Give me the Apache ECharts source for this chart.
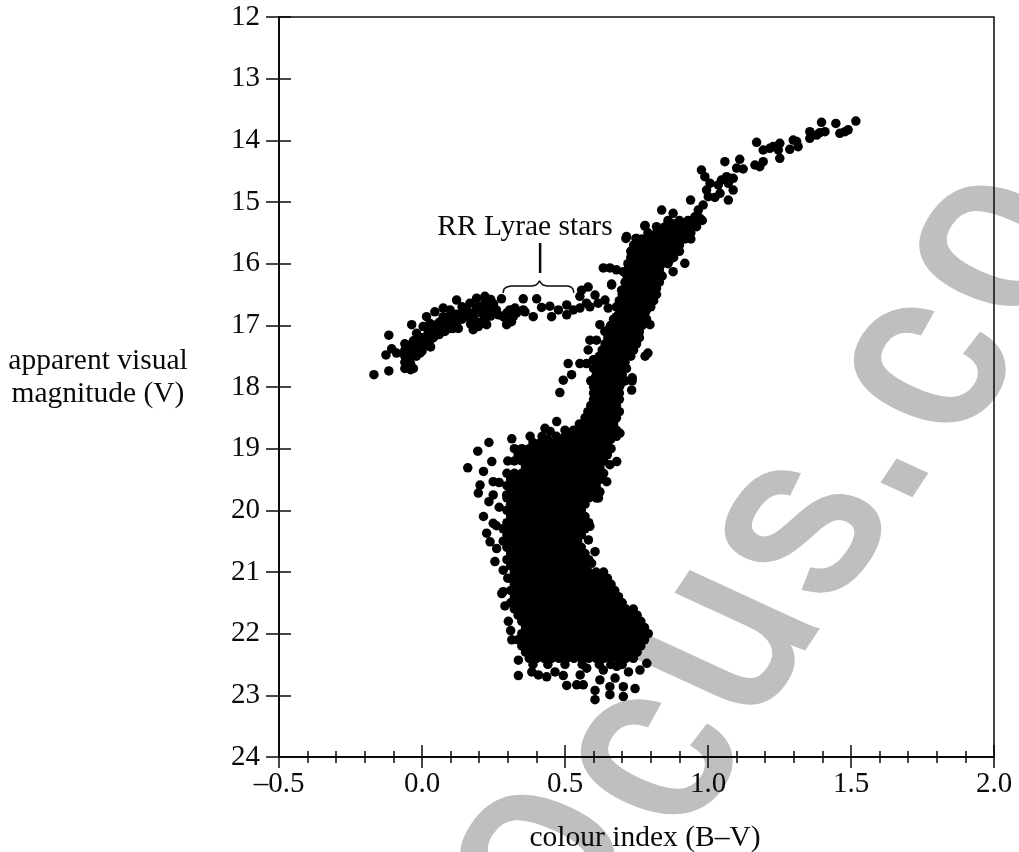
<!DOCTYPE html>
<html><head><meta charset="utf-8">
<style>html,body{margin:0;padding:0;background:#fff}#c{width:1019px;height:852px}</style>
<script src="https://cdn.jsdelivr.net/npm/echarts@6/dist/echarts.min.js"></script>
</head><body><div id="c"></div>
<script>
// Values: [colour index B-V, apparent magnitude V]
const upperGiantStars = [[1.517,13.687],[1.490,13.83],[1.461,13.887],[1.447,13.725],[1.479,13.86],[1.409,13.86],[1.397,13.708],[1.380,13.914],[1.356,13.86],[1.356,13.968],[1.391,13.876],[1.315,14.103],[1.298,13.995],[1.286,14.146],[1.310,14.02],[1.251,14.049],[1.251,14.292],[1.246,14.157],[1.216,14.13],[1.228,14.10],[1.170,14.033],[1.193,14.157],[1.193,14.346],[1.164,14.4],[1.181,14.427],[1.123,14.465],[1.100,14.45],[1.111,14.308],[1.059,14.346],[0.977,14.481],[0.989,14.589],[1.065,14.589],[1.088,14.616],[1.047,14.643],[1.071,14.697],[1.088,14.806],[1.036,14.724],[1.071,14.968],[1.007,14.697],[0.995,14.806],[1.001,14.914],[1.024,14.925],[1.042,14.86],[0.939,14.968],[0.983,15.05],[0.966,15.13],[0.954,15.24],[0.972,15.265],[0.838,15.13],[0.878,15.184],[0.867,15.346],[0.779,15.39],[0.713,15.59],[0.748,15.59],[0.919,15.995],[0.878,16.13],[0.663,16.346],[0.698,16.43]];
const redGiantRows = [
[15.3,[.86,.90,.93,.96,.98]],[15.4,[.82,.85,.88,.91,.94,.96]],[15.5,[.79,.82,.85,.88,.91,.94]],[15.6,[.77,.80,.83,.86,.89,.92,.94]],
[15.7,[.74,.76,.79,.82,.85,.88,.90]],[15.8,[.73,.76,.79,.82,.85,.88,.90]],[15.9,[.73,.76,.79,.82,.85,.88]],[16.0,[.72,.75,.78,.81,.84,.86]],
[16.1,[.72,.75,.78,.81,.83]],[16.2,[.72,.75,.78,.81,.84]],[16.3,[.71,.74,.77,.80,.83]],[16.4,[.71,.74,.77,.80,.82]],
[16.5,[.70,.73,.76,.79,.82]],[16.6,[.69,.72,.75,.78,.81]],[16.7,[.68,.71,.74,.77,.80]],[16.8,[.69,.72,.75,.78]],
[16.9,[.67,.70,.73,.76,.785]],[17.0,[.66,.69,.72,.75,.77]],[17.1,[.64,.67,.70,.73,.76]],[17.2,[.65,.68,.71,.74,.76]],
[17.3,[.64,.67,.70,.73,.75]],[17.4,[.63,.66,.69,.72,.74]],[17.5,[.62,.65,.68,.71,.73]],[17.6,[.62,.65,.68,.71]],
[17.7,[.60,.63,.66,.69,.715]],[17.8,[.61,.64,.67,.70]],[17.9,[.59,.62,.65,.68,.71,.735]],[18.0,[.60,.63,.66,.69]],
[18.1,[.60,.63,.66,.69]],[18.2,[.60,.63,.66,.69]],[18.3,[.59,.62,.65,.68]],[18.4,[.58,.61,.64,.67,.69]],
[18.5,[.57,.60,.63,.66,.68]],[18.6,[.55,.58,.61,.64,.67]],[18.7,[.50,.53,.56,.59,.62,.65,.68]],[18.8,[.42,.47,.50,.53,.56,.59,.62,.65,.68]]
];
const redGiantInnerRows = [
[15.35,[.875,.915,.945]],[15.45,[.835,.865,.895,.925]],[15.55,[.805,.835,.865,.895,.925]],[15.65,[.775,.805,.835,.865,.895]],
[15.75,[.745,.775,.805,.835,.865]],[15.85,[.745,.775,.805,.835,.865]],[15.95,[.745,.775,.805,.835,.865]],[16.05,[.735,.765,.795,.825]],
[16.15,[.735,.765,.795,.82]],[16.25,[.735,.765,.795,.825]],[16.35,[.725,.755,.785,.815]],[16.45,[.725,.755,.785,.81]],
[16.55,[.715,.745,.775,.805]],[16.65,[.705,.735,.765,.795]],[16.75,[.695,.725,.755,.785]],[16.85,[.685,.715,.745,.775]],
[16.95,[.685,.715,.745,.77]],[17.05,[.655,.685,.715,.745]],[17.15,[.665,.695,.725,.75]],[17.25,[.655,.685,.715,.745]],
[17.35,[.655,.685,.715]],[17.45,[.645,.675,.705]],[17.55,[.635,.665,.695]],[17.65,[.615,.645,.675,.70]],
[17.75,[.615,.645,.675,.70]],[17.85,[.605,.635,.665,.695]],[17.95,[.605,.635,.665,.695]],[18.05,[.615,.645,.675]],
[18.15,[.615,.645,.675]],[18.25,[.615,.645,.675]],[18.35,[.605,.635,.665]],[18.45,[.595,.625,.655]],
[18.55,[.585,.615,.645,.67]],[18.65,[.565,.595,.625,.655]],[18.75,[.515,.545,.575,.605,.635,.665]],[18.85,[.44,.48,.515,.545,.575,.605,.635,.66]]
];
const mainSequenceRows = [
[18.9,[.388,.414,.44,.466,.492,.518,.544,.57,.596,.622,.648]],
[19.0,[.323,.349,.375,.401,.427,.453,.479,.505,.531,.557,.583,.609,.635,.661]],
[19.1,[.336,.362,.388,.414,.44,.466,.492,.518,.544,.57,.596,.622,.648]],
[19.2,[.323,.349,.375,.401,.427,.453,.479,.505,.531,.557,.583,.609,.635]],
[19.3,[.362,.388,.414,.44,.466,.492,.518,.544,.57,.596,.622]],
[19.4,[.297,.323,.349,.375,.401,.427,.453,.479,.505,.531,.557,.583,.609,.635]],
[19.5,[.31,.336,.362,.388,.414,.44,.466,.492,.518,.544,.57,.596,.622]],
[19.6,[.297,.323,.349,.375,.401,.427,.453,.479,.505,.531,.557,.583,.609]],
[19.7,[.31,.336,.362,.388,.414,.44,.466,.492,.518,.544,.57,.596,.622]],
[19.8,[.297,.323,.349,.375,.401,.427,.453,.479,.505,.531,.557,.583,.609]],
[19.9,[.31,.336,.362,.388,.414,.44,.466,.492,.518,.544,.57]],
[20.0,[.297,.323,.349,.375,.401,.427,.453,.479,.505,.531,.557]],
[20.1,[.31,.336,.362,.388,.414,.44,.466,.492,.518,.544,.57]],
[20.2,[.297,.323,.349,.375,.401,.427,.453,.479,.505,.531,.557,.583]],
[20.3,[.284,.31,.336,.362,.388,.414,.44,.466,.492,.518,.544,.57]],
[20.4,[.297,.323,.349,.375,.401,.427,.453,.479,.505,.531,.557]],
[20.5,[.284,.31,.336,.362,.388,.414,.44,.466,.492,.518,.544]],
[20.6,[.297,.323,.349,.375,.401,.427,.453,.479,.505,.531,.557]],
[20.7,[.31,.336,.362,.388,.414,.44,.466,.492,.518,.544,.57]],
[20.8,[.297,.323,.349,.375,.401,.427,.453,.479,.505,.531,.557,.583]],
[20.9,[.31,.336,.362,.388,.414,.44,.466,.492,.518,.544,.57]],
[21.0,[.323,.349,.375,.401,.427,.453,.479,.505,.531,.557,.583,.609,.635]],
[21.1,[.31,.336,.362,.388,.414,.44,.466,.492,.518,.544,.57,.596,.622,.648]],
[21.2,[.323,.349,.375,.401,.427,.453,.479,.505,.531,.557,.583,.609,.635,.661]],
[21.3,[.31,.336,.362,.388,.414,.44,.466,.492,.518,.544,.57,.596,.622,.648,.674]],
[21.4,[.323,.349,.375,.401,.427,.453,.479,.505,.531,.557,.583,.609,.635,.661,.687]],
[21.5,[.31,.336,.362,.388,.414,.44,.466,.492,.518,.544,.57,.596,.622,.648,.674,.70]],
[21.6,[.323,.349,.375,.401,.427,.453,.479,.505,.531,.557,.583,.609,.635,.661,.687,.713,.739]],
[21.7,[.336,.362,.388,.414,.44,.466,.492,.518,.544,.57,.596,.622,.648,.674,.70,.726,.752]],
[21.8,[.349,.375,.401,.427,.453,.479,.505,.531,.557,.583,.609,.635,.661,.687,.713,.739,.765]],
[21.9,[.362,.388,.414,.44,.466,.492,.518,.544,.57,.596,.622,.648,.674,.70,.726,.752,.778]],
[22.0,[.349,.375,.401,.427,.453,.479,.505,.531,.557,.583,.609,.635,.661,.687,.713,.739,.765,.791]],
[22.1,[.336,.362,.388,.414,.44,.466,.492,.518,.544,.57,.596,.622,.648,.674,.70,.726,.752,.778]],
[22.2,[.349,.375,.401,.427,.453,.479,.505,.531,.557,.583,.609,.635,.661,.687,.713,.739,.765]],
[22.3,[.362,.388,.414,.44,.466,.492,.518,.544,.57,.596,.622,.648,.674,.70,.726,.752]],
[22.4,[.375,.401,.427,.453,.479,.505,.531,.557,.583,.609,.635,.661,.687,.713,.739]],
[22.5,[.388,.44,.50,.56,.62,.66,.70]]
];
const mainSequenceEdgeStars = [[.160,19.31],[.195,19.04],[.234,18.9],[.244,19.21],[.215,19.37],[.314,18.84],[.203,19.59],[.197,19.72],[.249,19.535],[.249,19.75],[.234,19.86],[.296,19.75],[.215,20.10],[.249,20.21],[.226,20.37],[.238,20.51],[.261,20.62],[.255,20.83],[.284,20.97],[.279,21.35],[.302,21.8],[.314,22.1],[.337,22.43],[.337,22.68],[.384,22.62],[.407,22.67],[.436,22.70],[.465,22.62],[.494,22.68],[.506,22.84],[.541,22.83],[.564,22.83],[.553,22.67],[.605,22.92],[.605,23.07],[.657,22.86],[.657,22.99],[.704,22.86],[.745,22.89],[.704,23.02],[.681,22.53],[.675,22.72],[.622,22.75],[.722,22.62],[.762,22.59],[.786,22.48],[.634,22.59],[.576,22.56],[.43,18.67],[.471,18.56],[.378,18.8],[.448,18.72],[.692,18.75],[.681,19.21],[.657,19.26],[.646,19.535],[.617,19.8],[.587,20.26],[.582,20.48],[.605,20.67],[.593,20.86],[.284,21.32],[.735,17.85],[.79,17.45],[.78,17.5],[.797,16.99],[.733,18.05],[.30,19.2],[.27,19.55],[.27,19.95],[.26,20.25],[.30,21.1],[.29,21.55],[.31,21.95]];
const horizontalBranchStars = [[-.168,17.80],[-.116,17.74],[-.116,17.16],[-.126,17.48],[-.106,17.38],[-.036,16.99],[-.089,17.45],[-.06,17.30],[-.06,17.40],[-.06,17.50],[-.06,17.60],[-.06,17.70],[-.04,17.72],[-.04,17.62],[-.04,17.52],[-.04,17.42],[-.04,17.32],[-.03,17.70],[-.03,17.25],[-.02,17.40],[-.02,17.30],[-.02,17.5],[-.01,17.2],[0,17.3],[0,17.2],[0,17.42],[.02,17.15],[.02,17.05],[.02,17.25],[.03,17.35],[.04,17.0],[.04,17.1],[.04,17.2],[.06,16.95],[.06,17.05],[.06,17.15],[.08,16.9],[.08,17.0],[.08,17.1],[.1,16.85],[.1,16.95],[.1,17.05],[.12,16.82],[.12,16.92],[.12,17.0],[.14,16.8],[.14,16.7],[.14,16.9],[.16,16.85],[.16,16.78],[.18,16.88],[.19,16.95],[.17,16.98],[.121,16.59],[.2,16.7],[.21,16.8],[.22,16.62],[.23,16.72],[.24,16.58],[.25,16.65],[.26,16.75],[.24,16.85],[.22,16.9],[.2,16.95],[.226,16.99],[.179,17.07],[.197,17.02],[.278,16.57],[.296,16.8],[.319,16.86],[.296,16.99],[.284,16.86],[.354,16.57],[.401,16.57],[.325,16.72],[.36,16.78],[.389,16.86],[.418,16.71],[.447,16.69],[.453,16.86],[.477,16.75],[.506,16.67],[.506,16.83],[.529,16.75],[.552,16.72],[.552,16.53],[.581,16.38],[.558,16.43],[.605,16.51],[.575,16.64],[.587,16.70],[.640,16.59],[.616,16.64],[.651,16.72],[.663,16.33],[.634,16.07],[.657,16.07],[.680,16.10],[.704,16.13],[.715,16.18],[.704,16.43],[.721,16.59],[.680,16.86],[.715,15.56],[.75,15.59],[.780,15.38],[.511,17.62],[.523,17.80],[.494,17.89],[.482,18.09],[.587,17.24],[.610,17.24],[.581,17.40],[.552,17.62],[.575,17.62],[.599,17.56],[.622,16.99],[.64,17.10]];
const horizontalBranchInnerStars = [[.016,16.86],[.045,16.78],[.074,16.72],[.098,16.75],[.168,16.64],[.191,16.56],[.22,16.53],[.238,16.59],[.191,16.70],[.179,16.80],[.208,16.80],[-.042,17.40],[-.007,17.45],[.004,17.35],[.028,17.24],[.051,17.13],[.074,17.07],[.109,17.05],[.127,17.05],[-.007,17.29],[.016,17.18],[.039,17.02],[.063,16.97],[.028,16.97],[.004,17.02],[-.019,17.13],[.074,16.86],[.098,16.86],[.121,16.86],[.144,16.75],[.156,16.86],[.307,16.75],[.296,16.91],[.313,16.94],[.331,16.80],[.354,16.75],[.249,16.78],[.249,16.70],[.226,16.80],[.267,16.83]];
const bracePoints = [[.283,16.475],[.287,16.41],[.297,16.378],[.311,16.362],[.385,16.362],[.399,16.346],[.406,16.313],[.411,16.28],[.416,16.313],[.423,16.346],[.437,16.362],[.510,16.362],[.521,16.378],[.528,16.41],[.531,16.475]];
const leaderPoints = [[.413,15.665],[.413,16.15]];
const xTitle = 'colour index (B\u2013V)';
const yTitleLines = ['apparent visual','magnitude (V)'];
const calloutText = 'RR Lyrae stars';
const watermarkLetters = ['o','c','u','s','.','c','o'];

const rowsToPoints = rows => rows.flatMap(([v, xs]) => xs.map(x => [x, v]));
const stars = [...upperGiantStars, ...rowsToPoints(redGiantRows), ...rowsToPoints(redGiantInnerRows), ...rowsToPoints(mainSequenceRows), ...mainSequenceEdgeStars, ...horizontalBranchStars, ...horizontalBranchInnerStars];

const FONT = '"Liberation Serif","Times New Roman",serif';
const FS = 29;
const ink = '#0a0a0a';
const titleStyle = (t, x, y) => ({type:'text', x, y, z:10, style:{text:t, fill:ink, font:'29.5px '+FONT, textAlign:'center', textVerticalAlign:'middle'}});
// page placement of the grey watermark letters
const wmAnchors = [[535,1029],[652,914],[723,773],[800,637],[853,547],[925,442],[994,295]];

const xBase = {type:'value', min:-0.5, max:2, interval:0.5, splitLine:{show:false}, axisLine:{show:true, onZero:false, lineStyle:{color:ink, width:2}}};
const yBase = {type:'value', min:12, max:24, interval:1, inverse:true, splitLine:{show:false}, axisLine:{show:true, onZero:false, lineStyle:{color:ink, width:2}}};
const option = {
  animation:false, backgroundColor:'#fff',
  grid:{left:279, top:17, width:715, height:740, show:true, borderColor:ink, borderWidth:1.5, backgroundColor:'transparent'},
  xAxis:[
    {...xBase, position:'bottom', axisTick:{length:11, inside:false, lineStyle:{color:ink,width:1.5}},
     minorTick:{show:true, splitNumber:5, length:6, lineStyle:{color:ink,width:1.5}},
     axisLabel:{color:ink, fontFamily:FONT, fontSize:FS, margin:13, showMinLabel:true, showMaxLabel:true, formatter:v=>v.toFixed(1).replace('-','\u2013')}},
    {...xBase, position:'bottom', axisTick:{length:12, inside:true, lineStyle:{color:ink,width:1.5}},
     minorTick:{show:true, splitNumber:5, length:6, lineStyle:{color:ink,width:1.5}}, axisLabel:{show:false}}
  ],
  yAxis:[
    {...yBase, position:'left', axisTick:{length:13, inside:false, lineStyle:{color:ink,width:1.5}},
     axisLabel:{color:ink, fontFamily:FONT, fontSize:FS, margin:19, showMinLabel:true, showMaxLabel:true}},
    {...yBase, position:'left', axisTick:{length:12, inside:true, lineStyle:{color:ink,width:1.5}}, axisLabel:{show:false}}
  ],
  series:[
    {type:'scatter', name:'stars', data:stars, symbol:'circle', symbolSize:9.5, itemStyle:{color:'#000', opacity:1}, silent:true, z:5, large:false},
    {type:'line', name:'brace', data:bracePoints, showSymbol:false, smooth:false, lineStyle:{color:ink,width:1.5}, silent:true, z:6},
    {type:'line', name:'leader', data:leaderPoints, showSymbol:false, lineStyle:{color:ink,width:2.5}, silent:true, z:6}
  ],
  graphic:[
    {type:'group', scaleY:0.83, z:-10, silent:true, children: watermarkLetters.map((ch,i)=>({
      type:'text', x:wmAnchors[i][0], y:wmAnchors[i][1], rotation:61*Math.PI/180, z:-10, silent:true,
      style:{text:ch, fill:'#bfbfbf', stroke:'#bfbfbf', lineWidth:8, font:'265px "Liberation Sans"', textAlign:'center', textVerticalAlign:'middle'}
    }))},
    titleStyle(calloutText, 525, 227),
    titleStyle(yTitleLines[0], 98, 361),
    titleStyle(yTitleLines[1], 98, 394),
    titleStyle(xTitle, 645, 838)
  ]
};
echarts.init(document.getElementById('c'), null, {renderer:'canvas'}).setOption(option);
</script></body></html>
